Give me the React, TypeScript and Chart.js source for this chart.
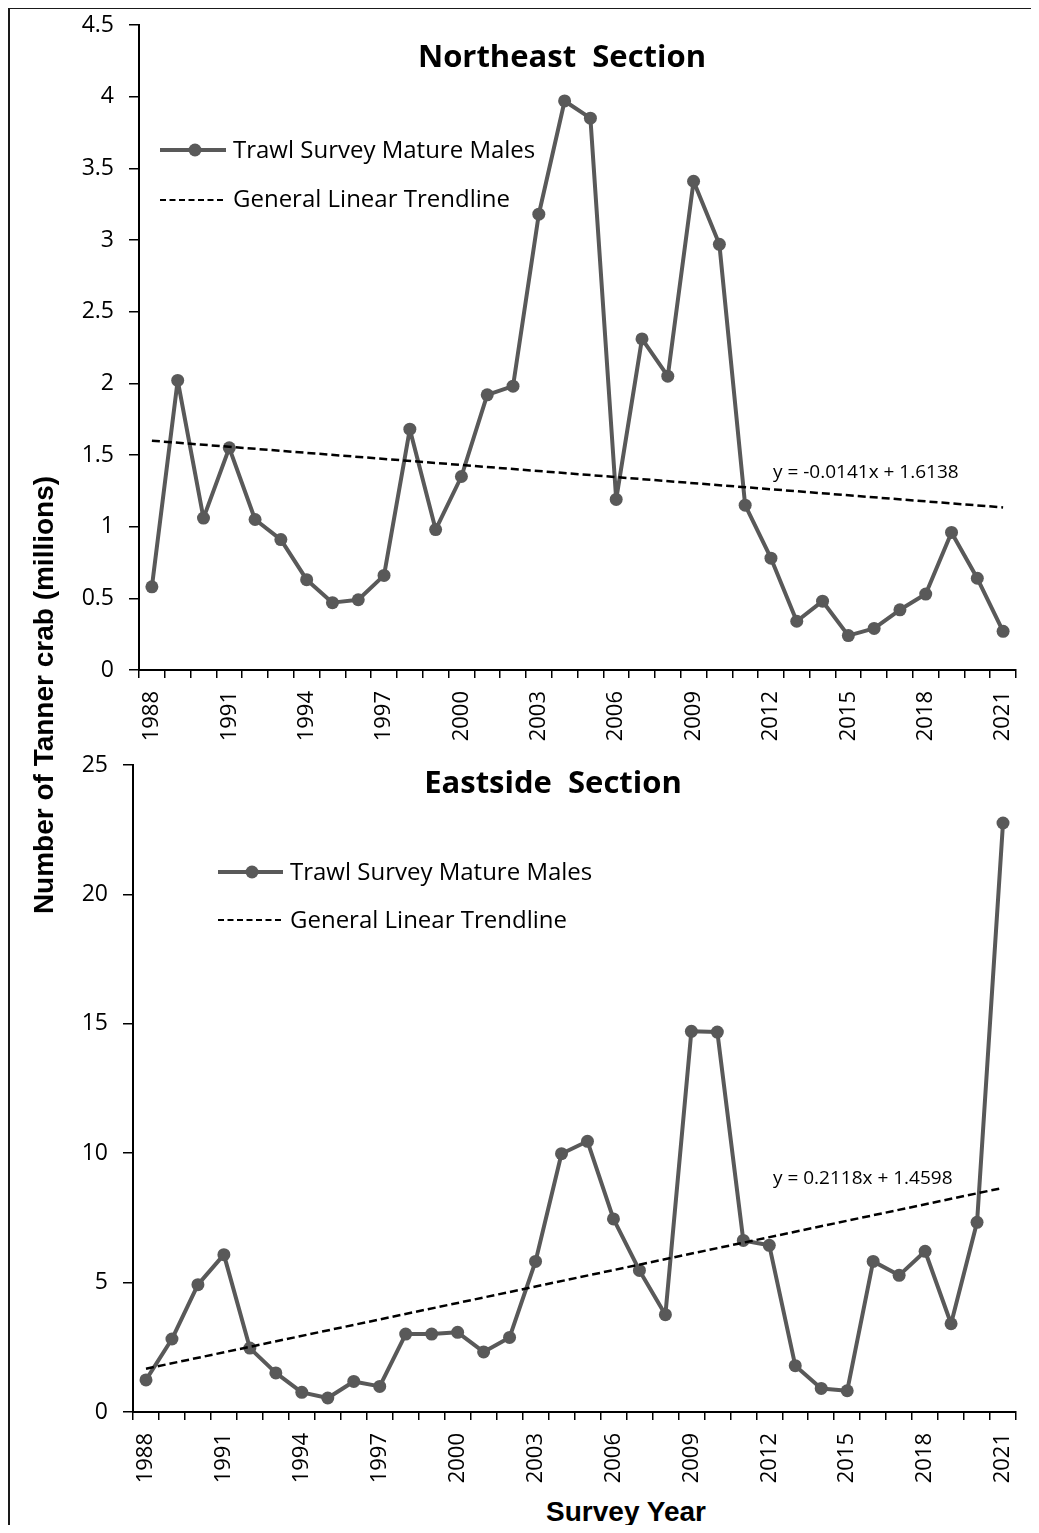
import React, { useEffect, useRef } from 'react';
import { Chart, registerables } from 'chart.js';

Chart.register(...registerables);

// ---------- data ----------
const years = [
  '1988', '1989', '1990', '1991', '1992', '1993', '1994', '1995', '1996', '1997',
  '1998', '1999', '2000', '2001', '2002', '2003', '2004', '2005', '2006', '2007',
  '2008', '2009', '2010', '2011', '2012', '2013', '2014', '2015', '2016', '2017',
  '2018', '2019', '2020', '2021',
];

const northeastMatureMales = [
  0.58, 2.02, 1.06, 1.55, 1.05, 0.91, 0.63, 0.47, 0.49, 0.66,
  1.68, 0.98, 1.35, 1.92, 1.98, 3.18, 3.97, 3.85, 1.19, 2.31,
  2.05, 3.41, 2.97, 1.15, 0.78, 0.34, 0.48, 0.24, 0.29, 0.42,
  0.53, 0.96, 0.64, 0.27,
];

const eastsideMatureMales = [
  1.24, 2.82, 4.92, 6.08, 2.47, 1.51, 0.76, 0.54, 1.18, 0.99,
  3.01, 3.01, 3.08, 2.32, 2.88, 5.82, 9.98, 10.46, 7.46, 5.47,
  3.76, 14.71, 14.68, 6.63, 6.44, 1.79, 0.91, 0.82, 5.82, 5.28,
  6.21, 3.41, 7.33, 22.76,
];

// trendline end values (first and last survey year)
const northeastTrendEnds = [1.5997, 1.1344];
const eastsideTrendEnds = [1.6716, 8.661];

const northeastEquation = 'y = -0.0141x + 1.6138';
const eastsideEquation = 'y = 0.2118x + 1.4598';

const seriesLabel = 'Trawl Survey Mature Males';
const trendLabel = 'General Linear Trendline';

const SERIES_COLOR = '#595959';
const TICK_FONT = 'Open Sans';

// ---------- overlay plugin: title, legend, equation ----------
const panelOverlay = {
  id: 'panelOverlay',
  afterDatasetsDraw(chart: any, _args: any, opts: any) {
    const ctx = chart.ctx as CanvasRenderingContext2D;
    const [series, trend] = chart.data.datasets;
    ctx.save();

    // title
    ctx.fillStyle = '#000';
    ctx.font = `bold ${opts.titleSize}px "${TICK_FONT}"`;
    ctx.textAlign = 'center';
    ctx.textBaseline = 'alphabetic';
    ctx.fillText(opts.title, opts.titleX, opts.titleY);

    // legend
    const L = opts.legend;
    ctx.setLineDash([]);
    ctx.lineCap = 'butt';
    ctx.strokeStyle = series.borderColor;
    ctx.lineWidth = series.borderWidth;
    ctx.beginPath();
    ctx.moveTo(L.x0, L.y1);
    ctx.lineTo(L.x1, L.y1);
    ctx.stroke();
    ctx.fillStyle = series.pointBackgroundColor;
    ctx.beginPath();
    ctx.arc(L.mx, L.y1, series.pointRadius, 0, Math.PI * 2);
    ctx.fill();

    ctx.strokeStyle = trend.borderColor;
    ctx.lineWidth = 2;
    ctx.setLineDash([6, 3.5]);
    ctx.beginPath();
    ctx.moveTo(L.x0, L.y2);
    ctx.lineTo(L.x1, L.y2);
    ctx.stroke();
    ctx.setLineDash([]);

    ctx.fillStyle = '#000';
    ctx.font = `${L.size}px "${TICK_FONT}"`;
    ctx.textAlign = 'left';
    ctx.fillText(series.label, L.tx, L.b1);
    ctx.fillText(trend.label, L.tx, L.b2);

    // equation
    ctx.font = `${opts.eqSize}px "${TICK_FONT}"`;
    ctx.fillText(opts.eq, opts.eqX, opts.eqY);

    ctx.restore();
  },
};

type Panel = {
  values: number[];
  trend: number[];
  yMax: number;
  yStep: number;
  yAxisWidth: number;
  xAxisHeight: number;
  padTop: number;
  padRight: number;
  overlay: any;
};

function makeConfig(p: Panel): any {
  return {
    type: 'line',
    data: {
      labels: years,
      datasets: [
        {
          label: seriesLabel,
          data: p.values,
          borderColor: SERIES_COLOR,
          backgroundColor: SERIES_COLOR,
          borderWidth: 4,
          borderJoinStyle: 'round',
          borderCapStyle: 'round',
          pointRadius: 6.5,
          pointHoverRadius: 6.5,
          pointBackgroundColor: SERIES_COLOR,
          pointBorderWidth: 0,
          tension: 0,
          clip: false,
          order: 1,
        },
        {
          label: trendLabel,
          data: [
            { x: years[0], y: p.trend[0] },
            { x: years[years.length - 1], y: p.trend[1] },
          ],
          borderColor: '#000',
          backgroundColor: '#000',
          borderWidth: 2.5,
          borderDash: [8, 4],
          pointRadius: 0,
          tension: 0,
          order: 0,
        },
      ],
    },
    options: {
      responsive: false,
      animation: false,
      events: [],
      layout: { padding: { top: p.padTop, right: p.padRight, left: 0, bottom: 0 } },
      plugins: {
        legend: { display: false },
        title: { display: false },
        tooltip: { enabled: false },
        panelOverlay: p.overlay,
      },
      scales: {
        x: {
          type: 'category',
          offset: true,
          grid: {
            offset: true,
            drawOnChartArea: false,
            drawTicks: true,
            tickLength: 8,
            color: '#000',
            lineWidth: 1.5,
          },
          border: { display: true, color: '#000', width: 2 },
          ticks: {
            autoSkip: false,
            maxRotation: 90,
            minRotation: 90,
            padding: 13,
            color: '#000',
            font: { family: TICK_FONT, size: 22 },
            callback: function (this: any, v: any, i: number) {
              return i % 3 === 0 ? this.getLabelForValue(v) : '';
            },
          },
          afterFit(s: any) {
            s.height = p.xAxisHeight;
            s.paddingLeft = 0;
            s.paddingRight = 0;
          },
        },
        y: {
          min: 0,
          max: p.yMax,
          grid: {
            drawOnChartArea: false,
            drawTicks: true,
            tickLength: 10,
            color: '#000',
            lineWidth: 1.5,
          },
          border: { display: true, color: '#000', width: 2 },
          ticks: {
            stepSize: p.yStep,
            padding: 15,
            color: '#000',
            font: { family: TICK_FONT, size: 23 },
            callback: (v: any) => String(v),
          },
          afterFit(s: any) {
            s.width = p.yAxisWidth;
            s.paddingTop = 0;
            s.paddingBottom = 0;
          },
        },
      },
    },
    plugins: [panelOverlay],
  };
}

const northeastPanel: Panel = {
  values: northeastMatureMales,
  trend: northeastTrendEnds,
  yMax: 4.5,
  yStep: 0.5,
  yAxisWidth: 79,
  xAxisHeight: 75,
  padTop: 17,
  padRight: 15,
  overlay: {
    title: 'Northeast  Section',
    titleSize: 31,
    titleX: 502,
    titleY: 59,
    legend: { x0: 100, x1: 166, mx: 135, y1: 142, y2: 192, tx: 173, b1: 150, b2: 199, size: 24 },
    eq: northeastEquation,
    eqSize: 19,
    eqX: 713,
    eqY: 470,
  },
};

const eastsidePanel: Panel = {
  values: eastsideMatureMales,
  trend: eastsideTrendEnds,
  yMax: 25,
  yStep: 5,
  yAxisWidth: 73,
  xAxisHeight: 78,
  padTop: 15,
  padRight: 15,
  overlay: {
    title: 'Eastside  Section',
    titleSize: 31,
    titleX: 493,
    titleY: 43,
    legend: { x0: 158, x1: 223, mx: 192, y1: 122, y2: 170, tx: 230, b1: 130, b2: 178, size: 24 },
    eq: eastsideEquation,
    eqSize: 19,
    eqX: 713,
    eqY: 434,
  },
};

// page origin of the frame content: x = 8, y = 8
export default function App() {
  const topRef = useRef<HTMLCanvasElement>(null);
  const botRef = useRef<HTMLCanvasElement>(null);

  useEffect(() => {
    const c1 = new Chart(topRef.current as HTMLCanvasElement, makeConfig(northeastPanel));
    const c2 = new Chart(botRef.current as HTMLCanvasElement, makeConfig(eastsidePanel));
    return () => {
      c1.destroy();
      c2.destroy();
    };
  }, []);

  return (
    <div
      style={{
        position: 'relative',
        width: 1023,
        height: 1517,
        background: '#fff',
      }}
    >
      {/* frame: top and left edges */}
      <div style={{ position: 'absolute', left: 0, top: -1, width: 1031, height: 2, background: '#1a1a1a' }} />
      <div style={{ position: 'absolute', left: 0, top: -1, width: 2, height: 1526, background: '#1a1a1a' }} />

      <canvas
        ref={topRef}
        width={971}
        height={737}
        style={{ position: 'absolute', left: 52, top: 0, display: 'block' }}
      />
      <canvas
        ref={botRef}
        width={971}
        height={740}
        style={{ position: 'absolute', left: 52, top: 742, display: 'block' }}
      />
      <div
        style={{
          position: 'absolute',
          left: 36 - 300,
          top: 687 - 17,
          width: 600,
          height: 34,
          lineHeight: '34px',
          textAlign: 'center',
          transform: 'rotate(-90deg)',
          transformOrigin: '50% 50%',
          fontFamily: '"Liberation Sans", Arial, sans-serif',
          fontWeight: 'bold',
          fontSize: 28,
          color: '#000',
          whiteSpace: 'nowrap',
        }}
      >
        Number of Tanner crab (millions)
      </div>
      <div
        style={{
          position: 'absolute',
          left: 618 - 150,
          top: 1488,
          width: 300,
          height: 32,
          lineHeight: '32px',
          textAlign: 'center',
          fontFamily: '"Liberation Sans", Arial, sans-serif',
          fontWeight: 'bold',
          fontSize: 28,
          color: '#000',
          whiteSpace: 'nowrap',
        }}
      >
        Survey Year
      </div>
    </div>
  );
}
